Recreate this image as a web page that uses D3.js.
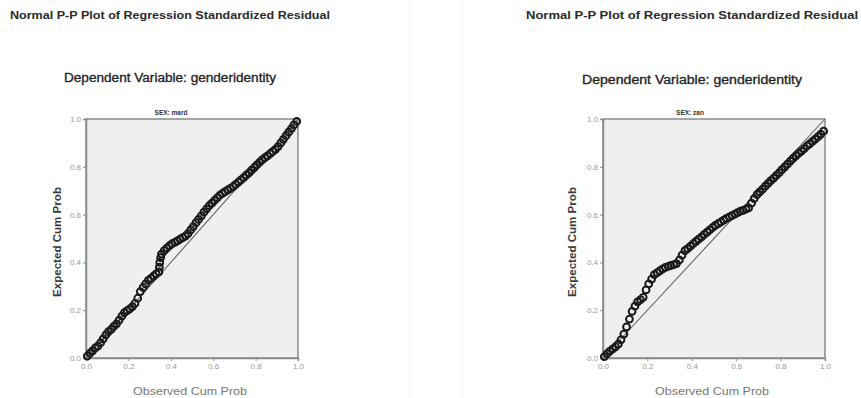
<!DOCTYPE html>
<html>
<head>
<meta charset="utf-8">
<script src="https://cdn.jsdelivr.net/npm/d3@7"></script>
<style>
  body { margin: 0; background: #fff; }
  svg { display: block; font-family: "Liberation Sans", Arial, sans-serif; }
</style>
</head>
<body>
<div class="result"></div>
<script>
// P-P plot values (observed cum prob, expected cum prob)
const obsMard = [0.006, 0.019, 0.031, 0.044, 0.056, 0.069, 0.081, 0.094, 0.106, 0.119,
  0.131, 0.144, 0.156, 0.169, 0.181, 0.194, 0.206, 0.219, 0.231, 0.244,
  0.256, 0.269, 0.281, 0.294, 0.306, 0.319, 0.331, 0.344, 0.346, 0.348,
  0.352, 0.356, 0.369, 0.381, 0.394, 0.406, 0.419, 0.431, 0.444, 0.456,
  0.469, 0.481, 0.494, 0.506, 0.519, 0.531, 0.544, 0.556, 0.569, 0.581,
  0.594, 0.606, 0.619, 0.631, 0.644, 0.656, 0.669, 0.681, 0.694, 0.706,
  0.719, 0.731, 0.744, 0.756, 0.769, 0.781, 0.794, 0.806, 0.819, 0.831,
  0.844, 0.856, 0.869, 0.881, 0.894, 0.906, 0.919, 0.931, 0.944, 0.956,
  0.969, 0.981, 0.994];
const expMard = [0.008, 0.02, 0.03, 0.042, 0.05, 0.064, 0.08, 0.097, 0.11, 0.12,
  0.132, 0.143, 0.158, 0.175, 0.19, 0.198, 0.205, 0.215, 0.228, 0.25,
  0.278, 0.295, 0.31, 0.325, 0.333, 0.343, 0.352, 0.36, 0.38, 0.40,
  0.42, 0.435, 0.449, 0.46, 0.47, 0.478, 0.484, 0.49, 0.497, 0.504,
  0.51, 0.52, 0.536, 0.55, 0.566, 0.58, 0.595, 0.61, 0.624, 0.637,
  0.648, 0.659, 0.67, 0.681, 0.689, 0.696, 0.703, 0.71, 0.717, 0.726,
  0.736, 0.745, 0.755, 0.765, 0.775, 0.786, 0.797, 0.808, 0.819, 0.829,
  0.838, 0.846, 0.855, 0.864, 0.873, 0.884, 0.9, 0.915, 0.93, 0.945,
  0.96, 0.975, 0.99];

const obsZan = [0.006, 0.019, 0.031, 0.044, 0.056, 0.069, 0.081, 0.094, 0.106, 0.119,
  0.131, 0.144, 0.156, 0.169, 0.181, 0.194, 0.206, 0.219, 0.231, 0.244,
  0.256, 0.269, 0.281, 0.294, 0.306, 0.319, 0.331, 0.344, 0.356, 0.369,
  0.381, 0.394, 0.406, 0.419, 0.431, 0.444, 0.456, 0.469, 0.481, 0.494,
  0.506, 0.519, 0.531, 0.544, 0.556, 0.569, 0.581, 0.594, 0.606, 0.619,
  0.631, 0.644, 0.656, 0.669, 0.681, 0.694, 0.706, 0.719, 0.731, 0.744,
  0.756, 0.769, 0.781, 0.794, 0.806, 0.819, 0.831, 0.844, 0.856, 0.869,
  0.881, 0.894, 0.906, 0.919, 0.931, 0.944, 0.956, 0.969, 0.981, 0.994];
const expZan = [0.006, 0.018, 0.029, 0.038, 0.047, 0.058, 0.076, 0.1, 0.13, 0.163,
  0.195, 0.217, 0.235, 0.244, 0.254, 0.285, 0.31, 0.33, 0.349, 0.357,
  0.365, 0.373, 0.379, 0.383, 0.387, 0.391, 0.395, 0.41, 0.43, 0.449,
  0.458, 0.468, 0.478, 0.488, 0.497, 0.507, 0.517, 0.527, 0.536, 0.546,
  0.555, 0.562, 0.569, 0.577, 0.584, 0.59, 0.596, 0.602, 0.608, 0.614,
  0.618, 0.623, 0.628, 0.648, 0.667, 0.684, 0.695, 0.707, 0.719, 0.731,
  0.742, 0.753, 0.764, 0.776, 0.788, 0.8, 0.811, 0.824, 0.835, 0.846,
  0.856, 0.866, 0.876, 0.887, 0.896, 0.906, 0.916, 0.926, 0.937, 0.949];

const tickValues = [0, 0.2, 0.4, 0.6, 0.8, 1.0];
const chartTitle = 'Normal P-P Plot of Regression Standardized Residual';
const depTitle = 'Dependent Variable: genderidentity';
const xTitle = 'Observed Cum Prob';
const yTitle = 'Expected Cum Prob';

const w = 861;
const h = 398;

const svg = d3.select('.result')
  .append('svg')
  .attr('width', w)
  .attr('height', h);

// faint borders of the two pasted screenshots
[410, 462].forEach(function (x) {
  svg.append('line')
    .attr('x1', x).attr('x2', x)
    .attr('y1', 0).attr('y2', h)
    .attr('stroke', '#f4f4f4');
});

const panels = [
  { obs: obsMard, exp: expMard, sub: 'SEX: mard', left: 86, right: 298,
    titleX: 10, titleW: 320, depX: 64, depW: 212, depY: 82, subX: 171, yLabX: 57 },
  { obs: obsZan, exp: expZan, sub: 'SEX: zan', left: 603, right: 825,
    titleX: 526, titleW: 332, depX: 582, depW: 220, depY: 84, subX: 690, yLabX: 572 }
];

const plotTop = 119;
const plotBottom = 358;

panels.forEach(function (p) {
  const x = d3.scaleLinear().domain([0, 1]).range([p.left, p.right]);
  const y = d3.scaleLinear().domain([0, 1]).range([plotBottom, plotTop]);

  // Titles
  svg.append('text')
    .attr('x', p.titleX).attr('y', 19)
    .attr('font-size', 11).attr('font-weight', 'bold')
    .attr('fill', '#2a2a2a')
    .attr('textLength', p.titleW).attr('lengthAdjust', 'spacingAndGlyphs')
    .text(chartTitle);

  svg.append('text')
    .attr('x', p.depX).attr('y', p.depY)
    .attr('font-size', 12)
    .attr('fill', '#222')
    .attr('stroke', '#222').attr('stroke-width', 0.3)
    .attr('textLength', p.depW).attr('lengthAdjust', 'spacingAndGlyphs')
    .text(depTitle);

  svg.append('text')
    .attr('x', p.subX).attr('y', 115)
    .attr('text-anchor', 'middle')
    .attr('font-size', 6.5).attr('font-weight', 'bold')
    .attr('fill', '#333')
    .text(p.sub);

  // Plot frame
  svg.append('rect')
    .attr('x', p.left).attr('y', plotTop)
    .attr('width', p.right - p.left).attr('height', plotBottom - plotTop)
    .attr('fill', '#efefef')
    .attr('stroke', '#8a8a8a')
    .attr('stroke-width', 1.5);

  // Axes
  const xAxis = svg.append('g')
    .attr('transform', 'translate(0,' + plotBottom + ')')
    .call(d3.axisBottom(x).tickValues(tickValues).tickFormat(d3.format('.1f')).tickSize(3).tickPadding(2));
  const yAxis = svg.append('g')
    .attr('transform', 'translate(' + p.left + ',0)')
    .call(d3.axisLeft(y).tickValues(tickValues).tickFormat(d3.format('.1f')).tickSize(3).tickPadding(2));

  [xAxis, yAxis].forEach(function (g) {
    g.select('.domain').attr('stroke', '#8a8a8a').attr('stroke-width', 1.5);
    g.selectAll('.tick line').attr('stroke', '#8a8a8a');
    g.selectAll('.tick text')
      .attr('font-size', 8)
      .attr('fill', '#999')
      .attr('font-family', '"Liberation Sans", Arial, sans-serif');
  });

  // Axis titles
  svg.append('text')
    .attr('x', (p.left + p.right) / 2 - 2).attr('y', 395)
    .attr('text-anchor', 'middle')
    .attr('font-size', 11)
    .attr('fill', '#777')
    .attr('textLength', 114).attr('lengthAdjust', 'spacingAndGlyphs')
    .text(xTitle);

  svg.append('text')
    .attr('transform', 'translate(' + p.yLabX + ',' + 242 + ') rotate(-90)')
    .attr('text-anchor', 'middle')
    .attr('dy', '0.35em')
    .attr('font-size', 11).attr('font-weight', 'bold')
    .attr('fill', '#3a3a3a')
    .attr('textLength', 110).attr('lengthAdjust', 'spacingAndGlyphs')
    .text(yTitle);

  // Reference diagonal
  svg.append('line')
    .attr('x1', x(0)).attr('y1', y(0))
    .attr('x2', x(1)).attr('y2', y(1))
    .attr('stroke', '#666')
    .attr('stroke-width', 1.1);

  // Points
  svg.append('g')
    .selectAll('circle')
    .data(p.obs.map(function (d, i) { return [d, p.exp[i]]; }))
    .enter()
    .append('circle')
    .attr('cx', function (d) { return x(d[0]); })
    .attr('cy', function (d) { return y(d[1]); })
    .attr('r', 3.4)
    .attr('fill', 'none')
    .attr('stroke', '#1a1a1a')
    .attr('stroke-width', 2);
});
</script>
</body>
</html>
